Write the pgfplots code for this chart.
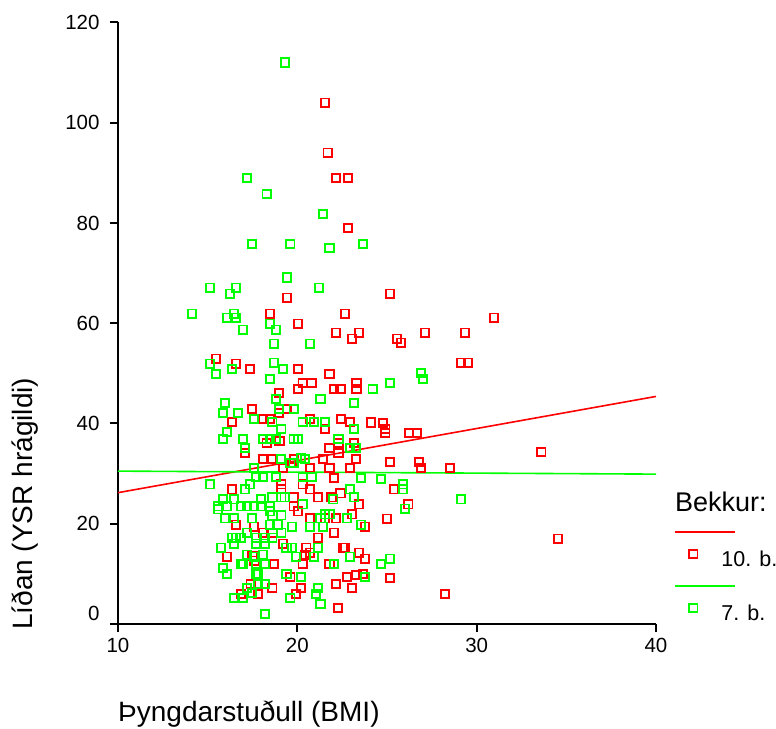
\documentclass[border=0pt]{standalone}
\usepackage{pgfplots}
\pgfplotsset{compat=1.18}
\usepackage{fontspec}
\setmainfont{Liberation Sans}
\definecolor{sred}{RGB}{255,0,0}
\definecolor{sgreen}{RGB}{0,255,0}
\begin{document}
\begin{tikzpicture}
\useasboundingbox (0pt,0pt) rectangle (776pt,728pt);
\begin{axis}[
  at={(118pt,104pt)}, anchor=south west,
  scale only axis, width=538pt, height=601.5pt,
  xmin=10, xmax=40, ymin=0, ymax=120,
  axis x line*=bottom, axis y line*=left,
  axis line style={line width=2.5pt, black},
  xtick={10,20,30,40}, ytick={0,20,40,60,80,100,120},
  yticklabels={\raisebox{21pt}{0},20,40,60,80,100,120},
  tick style={line width=2pt, black},
  tick align=outside, major tick length=8pt,
  /pgf/number format/assume math mode=true,
  ticklabel style={font=\fontsize{20.5}{23}\selectfont},
  yticklabel style={xshift=-7pt},
  xticklabel style={yshift=-3pt},
  clip=false,
  xlabel={Þyngdarstuðull (BMI)},
  xlabel style={at={(axis description cs:0,-0.1624)}, anchor=base west, inner sep=0pt, font=\fontsize{28}{32}\selectfont},
  ylabel={Líðan (YSR hrágildi)},
  ylabel style={at={(axis description cs:-0.158,-0.01)}, anchor=base west, inner sep=0pt, font=\fontsize{28}{32}\selectfont},
  legend style={draw=none, fill=none, inner sep=0pt, outer sep=0pt,
    at={(axis description cs:1.0613,0.1367)}, anchor=north west,
    row sep=29.6pt, column sep=24pt,
    font=\fontsize{21.5}{24}\selectfont,
    nodes={inner sep=0pt, text height=24.4pt, text depth=0pt},
    cells={anchor=west}},
  legend image code/.code={
    \draw[overlay, line width=1.6pt] (-18pt,22pt) -- (42pt,22pt);
    \draw plot coordinates {(0pt,0pt)};
  },
  scatter/.style={only marks, mark=square, mark size=4.25pt, mark options={line width=1.8pt, solid}},
]
\addplot[sred, scatter] coordinates {
(21.55,104.0) (21.7,94.0) (22.16,89.0) (22.83,89.0) (22.83,79.0)
(19.43,65.1) (25.17,65.9) (18.48,61.9) (22.66,61.9) (30.97,61.1)
(20.04,59.9) (22.16,58.1) (23.44,58.1) (27.12,58.1) (29.35,58.1)
(23.05,56.9) (25.56,56.9) (25.78,56.1) (15.47,52.9) (16.58,51.9)
(18.7,52.1) (29.13,52.1) (29.52,52.1) (17.36,50.9) (20.04,50.9)
(21.8,49.9) (20.3,48.1) (20.8,48.1) (23.3,48.1) (20.04,46.9)
(22.05,46.9) (22.4,46.9) (23.3,46.9) (18.98,46.1) (17.47,42.9)
(19.43,42.9) (18.98,42.1) (18.09,40.9) (18.48,40.9) (16.36,40.3)
(20.7,40.9) (22.44,40.9) (21.55,38.9) (22.94,40.3) (24.1,40.2)
(24.78,40.1) (24.9,38.9) (24.9,38.1) (26.23,38.1) (26.68,38.1)
(19.0,36.5) (22.3,36.1) (23.16,36.1) (18.3,36.1) (17.08,34.1)
(21.8,35.1) (22.3,34.1) (33.6,34.3) (18.09,32.9) (18.59,32.9)
(19.82,32.9) (21.43,32.9) (23.27,32.9) (19.2,31.1) (19.7,32.1)
(20.7,31.1) (21.8,31.1) (22.94,31.1) (25.17,32.3) (26.79,32.3)
(26.9,31.1) (28.52,31.1) (16.36,26.9) (19.1,27.9) (19.1,26.9)
(20.3,27.9) (20.7,26.9) (22.05,29.1) (21.15,25.3) (21.9,25.3)
(22.4,26.1) (25.39,26.9) (19.8,25.3) (19.8,23.5) (20.04,22.5)
(23.44,23.9) (26.18,23.9) (20.7,21.1) (21.55,21.1) (22.16,21.1)
(23.05,21.9) (25.0,21.0) (16.58,19.8) (23.78,19.4) (17.58,19.4)
(18.09,18.2) (18.6,18.2) (21.15,17.2) (22.05,18.2) (34.54,17.0)
(19.2,16.0) (20.5,15.2) (20.7,14.2) (22.55,15.2) (22.66,15.2)
(16.08,13.4) (17.5,13.6) (17.6,12.6) (20.43,13.8) (23.44,14.2)
(23.78,13.0) (18.7,12.0) (20.3,12.0) (21.8,12.0) (19.6,9.4)
(23.3,9.8) (22.77,9.4) (23.66,10.0) (25.17,9.2) (17.4,8.0)
(18.6,7.2) (20.2,7.2) (22.16,8.0) (23.05,7.2) (16.86,6.0)
(17.8,6.0) (19.93,6.0) (28.24,6.0) (22.27,3.2)
};
\addlegendentry{10. b.}
\addplot[sgreen, scatter] coordinates {
(19.31,112.0) (17.2,89.0) (18.3,85.8) (21.43,81.8) (17.47,75.8)
(19.6,75.8) (21.8,75.0) (23.66,75.8) (19.43,69.1) (15.13,67.1)
(16.58,67.1) (16.25,65.9) (21.2,67.1) (14.13,61.9) (16.08,61.1)
(16.47,61.9) (16.58,61.1) (18.48,59.9) (16.97,58.7) (18.81,58.7)
(18.7,55.9) (20.7,55.9) (15.13,51.9) (15.47,49.9) (16.36,50.9)
(18.7,52.1) (19.2,50.9) (26.9,50.1) (27.0,48.9) (18.48,48.9)
(24.2,46.9) (25.17,48.1) (18.81,44.9) (21.3,44.9) (15.97,44.1)
(23.16,44.1) (15.86,42.1) (16.69,42.1) (18.98,42.9) (19.8,42.9)
(17.58,40.9) (18.6,40.3) (19.1,38.9) (20.3,40.3) (20.93,40.3)
(21.55,40.3) (23.16,38.9) (16.08,38.3) (15.86,36.9) (16.97,36.9)
(18.09,36.9) (18.48,36.9) (18.81,36.9) (19.8,36.9) (20.04,36.9)
(22.3,36.9) (17.08,35.1) (22.94,35.1) (23.27,35.1) (19.09,32.9)
(19.6,32.1) (20.43,32.9) (20.2,33.1) (17.58,31.1) (19.8,32.1)
(15.13,27.9) (17.08,26.9) (17.36,27.9) (17.7,29.3) (18.09,29.3)
(18.81,29.3) (20.3,29.3) (20.8,29.3) (23.55,29.1) (24.67,28.9)
(22.94,26.9) (25.9,27.9) (25.9,26.9) (23.16,25.3) (29.13,24.9)
(22.0,24.9) (26.0,23.0) (15.86,24.9) (15.58,23.5) (15.58,22.9)
(16.08,23.5) (16.47,24.9) (16.86,23.5) (17.2,23.5) (17.58,23.5)
(17.97,23.5) (17.97,24.9) (18.48,23.5) (18.48,22.5) (18.6,25.3)
(19.1,25.3) (19.3,25.3) (20.3,23.9) (19.1,21.7) (18.6,21.7)
(15.97,21.1) (16.47,21.1) (17.47,21.1) (21.3,21.1) (21.55,21.9)
(21.8,21.9) (22.77,21.1) (18.48,19.8) (18.9,19.8) (19.7,19.4)
(20.7,19.4) (21.43,19.4) (23.55,19.8) (19.1,18.2) (16.36,17.2)
(16.58,17.2) (16.86,17.2) (17.2,18.2) (17.7,17.2) (18.2,17.2)
(18.6,17.2) (16.47,16.0) (15.75,15.2) (17.7,16.0) (18.2,16.0)
(19.4,15.2) (19.7,15.2) (21.15,15.2) (17.2,13.8) (17.58,13.4)
(18.09,13.8) (19.93,13.4) (20.93,13.4) (22.94,13.4) (16.86,12.0)
(16.97,12.0) (17.7,12.0) (18.2,12.0) (22.05,12.0) (24.67,12.0)
(25.17,13.0) (15.86,11.2) (16.08,10.0) (17.7,10.0) (17.8,10.0)
(19.4,10.0) (20.2,9.4) (23.78,9.4) (17.8,8.0) (18.2,8.0)
(17.2,7.2) (17.47,6.2) (21.15,7.2) (21.04,6.0) (16.47,5.2)
(16.97,5.2) (19.6,5.2) (21.3,4.0) (18.2,2.0)
};
\addlegendentry{7. b.}
\addplot[sred, line width=1.6pt, forget plot] coordinates {(10,26.2) (40,45.4)};
\addplot[sgreen, line width=1.6pt, forget plot] coordinates {(10,30.5) (40,29.9)};
\node[anchor=base west, inner sep=0pt, font=\fontsize{27}{30}\selectfont] at (axis description cs:1.0353,0.1862) {Bekkur:};
\end{axis}
\end{tikzpicture}
\end{document}
